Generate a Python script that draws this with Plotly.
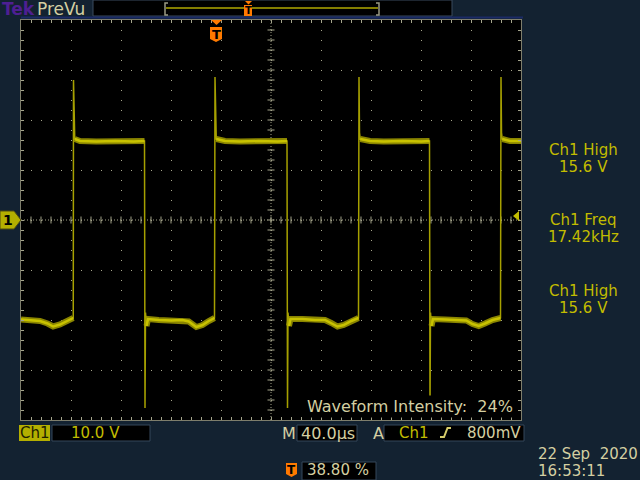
import plotly.graph_objects as go
import numpy as np

# ---------------- figure geometry (pixels) ----------------
W, H = 640, 480
L, R, T, B = 21, 521, 20, 420          # graticule area

# ---------------- scales ----------------
X_RANGE = [-155.2, 244.8]   # µs, 40.0 µs/div, trigger at 38.80 % of record
Y_RANGE = [-40.0, 40.0]     # V, 10.0 V/div
X_DIV = 40.0
Y_DIV = 10.0

# ---------------- waveform ----------------
wave_t = [
    -155.2, -148, -140, -134, -129.5, -124, -118, -113.4,
    -113.2, -112.8, -112.2, -108, -95, -80, -65, -56.4,
    -56.0, -55.6, -54.8, -53.6, -45, -35, -26, -21, -15, -10, -5, -0.4,
    0.0, 0.4, 1.0, 8, 20, 35, 50, 57.6,
    58.0, 58.4, 59.2, 60.4, 70, 80, 88, 93, 98, 103, 109, 114.8,
    115.2, 115.6, 116.2, 124, 135, 150, 165, 171.6,
    172.0, 172.4, 173.2, 174.4, 184, 194, 201, 206, 211, 216, 222, 228.4,
    228.8, 229.2, 229.8, 236, 244.8,
]
wave_v = [
    -19.9, -20.0, -20.2, -20.7, -21.3, -20.9, -20.1, -19.6,
    28.0, 17.5, 16.2, 15.8, 15.7, 15.8, 15.7, 15.8,
    -37.6, -18.5, -21.2, -19.8, -20.0, -20.1, -20.0, -20.3, -21.4, -21.0, -20.2, -19.6,
    28.6, 17.5, 16.2, 15.8, 15.7, 15.8, 15.7, 15.8,
    -37.6, -18.5, -21.2, -19.8, -19.8, -20.0, -20.0, -20.6, -21.3, -21.0, -20.2, -19.6,
    28.6, 17.5, 16.2, 15.8, 15.7, 15.8, 15.7, 15.8,
    -37.6, -18.5, -21.2, -19.8, -19.9, -20.0, -20.1, -20.8, -21.2, -20.7, -20.0, -19.6,
    28.6, 17.5, 16.2, 15.8, 15.8,
]

trigger_level_v = 0.8       # 800 mV

meas_labels = ["Ch1 High", "Ch1 Freq", "Ch1 High"]
meas_values = ["15.6 V", "17.42kHz", "15.6 V"]

NBSP = "\u00a0"

# ---------------- colours ----------------
NAVY = "#132231"
GRID = "#A4A48A"
FRAME = "#7E7E6C"
YEL = "#C2BC00"
YEL_BOX = "#B4AF00"
BEIGE = "#D4CFA2"
ORANGE = "#FF7A00"
FONT = "DejaVu Sans"


def px(x):
    return (x - L) / (R - L)


def py(y):
    return (B - y) / (B - T)


def path(points, close=True):
    s = "M " + " L ".join(f"{px(x):.5f},{py(y):.5f}" for x, y in points)
    return s + (" Z" if close else "")


# plateau band (noise thickness) built from the flat parts of the waveform
band_t, band_v = [], []
prev_end = None
for i in range(len(wave_t) - 1):
    if wave_t[i + 1] - wave_t[i] >= 1.0:
        if prev_end != i:
            if band_t:
                band_t.append(None)
                band_v.append(None)
            band_t.append(wave_t[i])
            band_v.append(wave_v[i])
        band_t.append(wave_t[i + 1])
        band_v.append(wave_v[i + 1])
        prev_end = i + 1

fig = go.Figure()

# centre-axis tick marks of the graticule
x_mid = (X_RANGE[0] + X_RANGE[1]) / 2
cx = np.arange(X_RANGE[0] + X_DIV / 5, X_RANGE[1] - 1e-6, X_DIV / 5)
cy = np.arange(Y_RANGE[0] + Y_DIV / 5, Y_RANGE[1] - 1e-6, Y_DIV / 5)
fig.add_trace(go.Scatter(x=cx, y=np.zeros_like(cx), mode="markers", hoverinfo="skip",
                         marker=dict(symbol="line-ns", size=5, color=GRID,
                                     line=dict(color=GRID, width=1))))
fig.add_trace(go.Scatter(x=np.full_like(cy, x_mid), y=cy, mode="markers", hoverinfo="skip",
                         marker=dict(symbol="line-ew", size=5, color=GRID,
                                     line=dict(color=GRID, width=1))))

# waveform
fig.add_trace(go.Scatter(x=band_t, y=band_v, mode="lines", hoverinfo="skip",
                         line=dict(color="#8A8500", width=6), connectgaps=False))
fig.add_trace(go.Scatter(x=wave_t, y=wave_v, mode="lines", hoverinfo="skip",
                         line=dict(color="#A6A000", width=1.5)))
fig.add_trace(go.Scatter(x=band_t, y=band_v, mode="lines", hoverinfo="skip",
                         line=dict(color="#C8C200", width=2.5), connectgaps=False))

shapes = []
# centre lines
shapes.append(dict(type="line", xref="x", yref="y", x0=X_RANGE[0], x1=X_RANGE[1], y0=0, y1=0,
                   line=dict(color=GRID, width=1, dash="1px,2px"), layer="below"))
shapes.append(dict(type="line", xref="x", yref="y", x0=x_mid, x1=x_mid, y0=Y_RANGE[0], y1=Y_RANGE[1],
                   line=dict(color=GRID, width=1, dash="1px,2px"), layer="below"))

# top record-view bar
shapes.append(dict(type="rect", xref="paper", yref="paper", x0=px(93), x1=px(452), y0=py(16), y1=py(0),
                   fillcolor="black", line=dict(color="#3B4B5E", width=1)))
shapes.append(dict(type="line", xref="paper", yref="paper", x0=px(166), x1=px(378), y0=py(8), y1=py(8),
                   line=dict(color="#B0A800", width=1.5)))
shapes.append(dict(type="path", xref="paper", yref="paper",
                   path=path([(168, 3), (165, 3), (165, 15), (168, 15)], close=False),
                   line=dict(color="#9A9A84", width=1.5)))
shapes.append(dict(type="path", xref="paper", yref="paper",
                   path=path([(376, 3), (379, 3), (379, 15), (376, 15)], close=False),
                   line=dict(color="#9A9A84", width=1.5)))
shapes.append(dict(type="path", xref="paper", yref="paper",
                   path=path([(245, 1), (252, 1), (248.5, 4.5)]),
                   fillcolor=ORANGE, line=dict(width=0)))
shapes.append(dict(type="path", xref="paper", yref="paper",
                   path=path([(244, 5), (252, 5), (252, 16), (244, 16)]),
                   fillcolor=ORANGE, line=dict(width=0)))
# dark band above graticule
shapes.append(dict(type="line", xref="paper", yref="paper", x0=px(21), x1=px(523), y0=py(17.5), y1=py(17.5),
                   line=dict(color="#1B2A66", width=2)))

# trigger position marker on graticule
shapes.append(dict(type="path", xref="paper", yref="paper",
                   path=path([(211, 20), (222, 20), (216.5, 25)]),
                   fillcolor=ORANGE, line=dict(width=0)))
shapes.append(dict(type="path", xref="paper", yref="paper",
                   path=path([(210, 27), (222, 27), (222, 39), (216, 42), (210, 39)]),
                   fillcolor=ORANGE, line=dict(width=0)))

# ground marker "1"
shapes.append(dict(type="path", xref="paper", yref="paper",
                   path=path([(0, 211), (14, 211), (21, 220), (14, 229), (0, 229)]),
                   fillcolor=YEL_BOX, line=dict(color="#4E4C10", width=1)))
# trigger level arrow (right)
tl_y = B - (trigger_level_v - Y_RANGE[0]) / (Y_RANGE[1] - Y_RANGE[0]) * (B - T)
shapes.append(dict(type="path", xref="paper", yref="paper",
                   path=path([(519, tl_y - 5), (513, tl_y), (519, tl_y + 5)]),
                   fillcolor=YEL, line=dict(width=0)))

# bottom readout boxes
shapes.append(dict(type="rect", xref="paper", yref="paper", x0=px(19), x1=px(50), y0=py(441), y1=py(425),
                   fillcolor=YEL_BOX, line=dict(width=0)))
for x0, x1, y0, y1 in [(52, 150, 425, 441), (297, 357, 425, 441), (384, 524, 425, 441), (302, 376, 462, 480)]:
    shapes.append(dict(type="rect", xref="paper", yref="paper", x0=px(x0), x1=px(x1), y0=py(y1), y1=py(y0),
                       fillcolor="black", line=dict(color="#34465A", width=1)))
# trigger slope symbol
shapes.append(dict(type="path", xref="paper", yref="paper",
                   path=path([(440, 437), (444, 437), (447.5, 428), (451, 428)], close=False),
                   line=dict(color="#D6CC6A", width=2)))
# bottom trigger position icon
shapes.append(dict(type="path", xref="paper", yref="paper",
                   path=path([(286, 463), (297, 463), (297, 474), (291.5, 477), (286, 474)]),
                   fillcolor=ORANGE, line=dict(width=0)))

annotations = []


def txt(s, x, y, color, size=16, anchor="left", bold=False, bg=None, family=FONT):
    d = dict(text=s, x=px(x), y=py(y), xref="paper", yref="paper", showarrow=False,
             xanchor=anchor, yanchor="middle",
             font=dict(family=family, size=size, color=color,
                       weight="bold" if bold else "normal"))
    if bg:
        d["bgcolor"] = bg
        d["borderpad"] = 1
    annotations.append(d)


txt("Tek", 0, 9, "#4E1F92", size=17, bold=True)
txt("PreVu", 35, 9.5, BEIGE, size=17)
txt("T", 248, 10.5, "black", size=10, anchor="center", bold=True)
txt("T", 216, 34, "black", size=13, anchor="center", bold=True)
txt("1", 8, 220, "black", size=14, anchor="center", bold=True)

# measurements
meas_y = [(149.5, 166.5), (220, 237), (291, 308)]
for (ly, vy), lab, val in zip(meas_y, meas_labels, meas_values):
    txt(lab, 583, ly, YEL, size=15, anchor="center")
    txt(val, 583, vy, YEL, size=15, anchor="center")

txt("Waveform Intensity:" + NBSP + NBSP + "24%", 305, 406, BEIGE, size=16, bg="black")

txt("Ch1", 34.5, 433, "#1E1E00", size=15, anchor="center")
txt("10.0 V", 69, 433, YEL, size=15)
txt("M", 289, 433, BEIGE, size=16, anchor="center")
txt("40.0µs", 299, 433, BEIGE, size=16)
txt("A", 378, 433, BEIGE, size=16, anchor="center")
txt("Ch1", 397, 433, YEL, size=15)
txt("800mV", 523, 433, BEIGE, size=15, anchor="right")
txt("T", 291.5, 469.5, "black", size=12, anchor="center", bold=True)
txt("38.80 %", 305, 470, BEIGE, size=15)
txt("22 Sep" + NBSP + NBSP + "2020", 536, 454, BEIGE, size=15)
txt("16:53:11", 536, 471, BEIGE, size=15)

axis_common = dict(showticklabels=False, zeroline=False, showgrid=True,
                   gridcolor=GRID, gridwidth=1, griddash="1px,9px",
                   ticks="inside", ticklen=3, tickcolor=GRID, tickwidth=1,
                   showline=True, linecolor=FRAME, linewidth=1, mirror="ticks",
                   fixedrange=True)

fig.update_layout(
    width=W, height=H,
    margin=dict(l=L, r=W - R, t=T, b=H - B, pad=0),
    paper_bgcolor=NAVY, plot_bgcolor="black",
    showlegend=False,
    xaxis=dict(range=X_RANGE, tick0=X_RANGE[0], dtick=X_DIV,
               minor=dict(tick0=X_RANGE[0], dtick=X_DIV / 5, ticks="inside", ticklen=3,
                          tickcolor=GRID, showgrid=False),
               **axis_common),
    yaxis=dict(range=Y_RANGE, tick0=Y_RANGE[0], dtick=Y_DIV,
               minor=dict(tick0=Y_RANGE[0], dtick=Y_DIV / 5, ticks="inside", ticklen=3,
                          tickcolor=GRID, showgrid=False),
               **axis_common),
    shapes=shapes,
    annotations=annotations,
)

fig.write_html("out.html", config={"displayModeBar": False},
               post_script="document.body.style.margin='0';"
                           "document.body.style.overflow='hidden';"
                           f"document.body.style.background='{NAVY}';")
